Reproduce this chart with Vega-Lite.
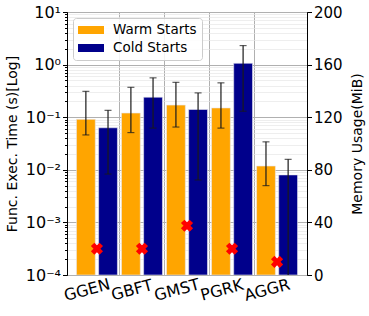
{
  "$schema": "https://vega.github.io/schema/vega-lite/v6.json",
  "autosize": {"type": "none"},
  "padding": {"left": 67, "top": 12, "right": 62, "bottom": 41},
  "width": 240,
  "height": 263,
  "config": {
    "font": "DejaVu Sans",
    "view": {"stroke": "black", "strokeWidth": 1},
    "axis": {
      "labelColor": "black", "titleColor": "black", "domainColor": "black", "tickColor": "black",
      "labelFont": "DejaVu Sans", "titleFont": "DejaVu Sans",
      "labelFontSize": 15, "titleFontSize": 14, "titleFontWeight": "normal"
    }
  },
  "datasets": {
    "bars": [
      {"cat": "GGEN", "type": "Warm Starts", "val": 0.091, "lo": 0.046, "hi": 0.31},
      {"cat": "GGEN", "type": "Cold Starts", "val": 0.063, "lo": 0.0083, "hi": 0.135},
      {"cat": "GBFT", "type": "Warm Starts", "val": 0.12, "lo": 0.051, "hi": 0.37},
      {"cat": "GBFT", "type": "Cold Starts", "val": 0.24, "lo": 0.062, "hi": 0.56},
      {"cat": "GMST", "type": "Warm Starts", "val": 0.17, "lo": 0.065, "hi": 0.46},
      {"cat": "GMST", "type": "Cold Starts", "val": 0.14, "lo": 0.0064, "hi": 0.29},
      {"cat": "PGRK", "type": "Warm Starts", "val": 0.15, "lo": 0.062, "hi": 0.45},
      {"cat": "PGRK", "type": "Cold Starts", "val": 1.06, "lo": 0.13, "hi": 2.3},
      {"cat": "AGGR", "type": "Warm Starts", "val": 0.0118, "lo": 0.005, "hi": 0.034},
      {"cat": "AGGR", "type": "Cold Starts", "val": 0.008, "lo": 0.00003, "hi": 0.0158}
    ],
    "mem": [
      {"cat": "GGEN", "mem": 20},
      {"cat": "GBFT", "mem": 20},
      {"cat": "GMST", "mem": 37.5},
      {"cat": "PGRK", "mem": 20},
      {"cat": "AGGR", "mem": 10}
    ]
  },
  "layer": [
    {
      "data": {"name": "bars"},
      "mark": {"type": "bar", "stroke": "#e8e8f0", "strokeWidth": 0.6, "clip": true},
      "encoding": {
        "x": {
          "field": "cat", "type": "nominal",
          "sort": ["GGEN", "GBFT", "GMST", "PGRK", "AGGR"],
          "scale": {"paddingInner": 0.09, "paddingOuter": 0.21},
          "axis": {"title": null, "labelAngle": -15, "labelAlign": "center", "labelBaseline": "top", "labelPadding": 7, "labelOffset": -12, "labelFontSize": 16, "ticks": false, "grid": false, "domain": false}
        },
        "xOffset": {"field": "type", "type": "nominal", "sort": ["Warm Starts", "Cold Starts"], "scale": {"paddingInner": 0.15}},
        "y": {
          "field": "val", "type": "quantitative", "stack": null,
          "scale": {"type": "log", "domain": [0.0001, 10], "nice": false},
          "axis": {
            "title": "Func. Exec. Time (s)[Log]",
            "values": [0.0001, 0.0002, 0.0003, 0.0004, 0.0005, 0.0006, 0.0007, 0.0008, 0.0009,
                       0.001, 0.002, 0.003, 0.004, 0.005, 0.006, 0.007, 0.008, 0.009,
                       0.01, 0.02, 0.03, 0.04, 0.05, 0.06, 0.07, 0.08, 0.09,
                       0.1, 0.2, 0.3, 0.4, 0.5, 0.6, 0.7, 0.8, 0.9,
                       1, 2, 3, 4, 5, 6, 7, 8, 9, 10],
            "labelExpr": "abs(log(datum.value)/LN10 - round(log(datum.value)/LN10)) > 0.01 ? '' : (round(log(datum.value)/LN10) == -4 ? '10⁻⁴' : round(log(datum.value)/LN10) == -3 ? '10⁻³' : round(log(datum.value)/LN10) == -2 ? '10⁻²' : round(log(datum.value)/LN10) == -1 ? '10⁻¹' : round(log(datum.value)/LN10) == 0 ? '10⁰' : '10¹')",
            "labelFontSize": 16,
            "grid": true,
            "gridColor": {"condition": {"test": "abs(log(datum.value)/LN10 - round(log(datum.value)/LN10)) > 0.01", "value": "#e6e6e6"}, "value": "#b0b0b0"},
            "gridWidth": {"condition": {"test": "abs(log(datum.value)/LN10 - round(log(datum.value)/LN10)) > 0.01", "value": 0.7}, "value": 1.2},
            "tickSize": {"condition": {"test": "abs(log(datum.value)/LN10 - round(log(datum.value)/LN10)) > 0.01", "value": 2.5}, "value": 4.5},
            "labelPadding": 2,
            "labelFlush": false,
            "labelOverlap": false,
            "titlePadding": 6
          }
        },
        "y2": {"datum": 0.0001},
        "color": {
          "field": "type", "type": "nominal",
          "scale": {"domain": ["Warm Starts", "Cold Starts"], "range": ["#FFA500", "#00008B"]},
          "legend": {
            "title": null, "orient": "top-left", "offset": 6,
            "fillColor": "rgba(255,255,255,0.85)", "strokeColor": "#cccccc", "cornerRadius": 3,
            "padding": 5, "labelFontSize": 13.5, "labelColor": "black", "labelFont": "DejaVu Sans",
            "symbolType": "M-1,-0.571H2.714V0.571H-1Z", "symbolSize": 196, "symbolStrokeWidth": 0,
            "labelOffset": 21, "rowPadding": 4
          }
        }
      }
    },
    {
      "data": {"name": "bars"},
      "mark": {"type": "rule", "color": "#1a1a1a", "strokeWidth": 1.2, "clip": true},
      "encoding": {
        "x": {"field": "cat", "type": "nominal", "sort": ["GGEN", "GBFT", "GMST", "PGRK", "AGGR"],
              "axis": {"title": null, "labels": false, "ticks": false, "domain": false, "grid": true, "bandPosition": -0.05,
                       "gridColor": "#b0b0b0", "gridWidth": 1,
                       "gridOpacity": {"condition": {"test": "datum.value === 'GGEN'", "value": 0}, "value": 1}}},
        "xOffset": {"field": "type", "type": "nominal", "sort": ["Warm Starts", "Cold Starts"], "scale": {"paddingInner": 0.15}},
        "y": {"field": "lo", "type": "quantitative", "scale": {"type": "log", "domain": [0.0001, 10], "nice": false}, "axis": null},
        "y2": {"field": "hi"}
      }
    },
    {
      "data": {"name": "bars"},
      "mark": {"type": "tick", "color": "#1a1a1a", "thickness": 1.2, "size": 7, "clip": true},
      "encoding": {
        "x": {"field": "cat", "type": "nominal", "sort": ["GGEN", "GBFT", "GMST", "PGRK", "AGGR"], "axis": null},
        "xOffset": {"field": "type", "type": "nominal", "sort": ["Warm Starts", "Cold Starts"], "scale": {"paddingInner": 0.15}},
        "y": {"field": "lo", "type": "quantitative", "scale": {"type": "log", "domain": [0.0001, 10], "nice": false}, "axis": null}
      }
    },
    {
      "data": {"name": "bars"},
      "mark": {"type": "tick", "color": "#1a1a1a", "thickness": 1.2, "size": 7, "clip": true},
      "encoding": {
        "x": {"field": "cat", "type": "nominal", "sort": ["GGEN", "GBFT", "GMST", "PGRK", "AGGR"], "axis": null},
        "xOffset": {"field": "type", "type": "nominal", "sort": ["Warm Starts", "Cold Starts"], "scale": {"paddingInner": 0.15}},
        "y": {"field": "hi", "type": "quantitative", "scale": {"type": "log", "domain": [0.0001, 10], "nice": false}, "axis": null}
      }
    },
    {
      "data": {"name": "mem"},
      "mark": {"type": "point", "shape": "cross", "angle": 45, "filled": true, "color": "red", "size": 150, "opacity": 1},
      "encoding": {
        "x": {"field": "cat", "type": "nominal", "sort": ["GGEN", "GBFT", "GMST", "PGRK", "AGGR"], "axis": null},
        "y": {
          "field": "mem", "type": "quantitative",
          "scale": {"domain": [0, 200], "nice": false},
          "axis": {"orient": "right", "title": "Memory Usage(MiB)", "titleAngle": 270, "values": [0, 40, 80, 120, 160, 200], "grid": false, "tickSize": 4.5, "labelPadding": 2, "labelFlush": false, "titlePadding": 22}
        }
      }
    }
  ],
  "resolve": {"scale": {"y": "independent"}, "axis": {"x": "independent"}}
}
